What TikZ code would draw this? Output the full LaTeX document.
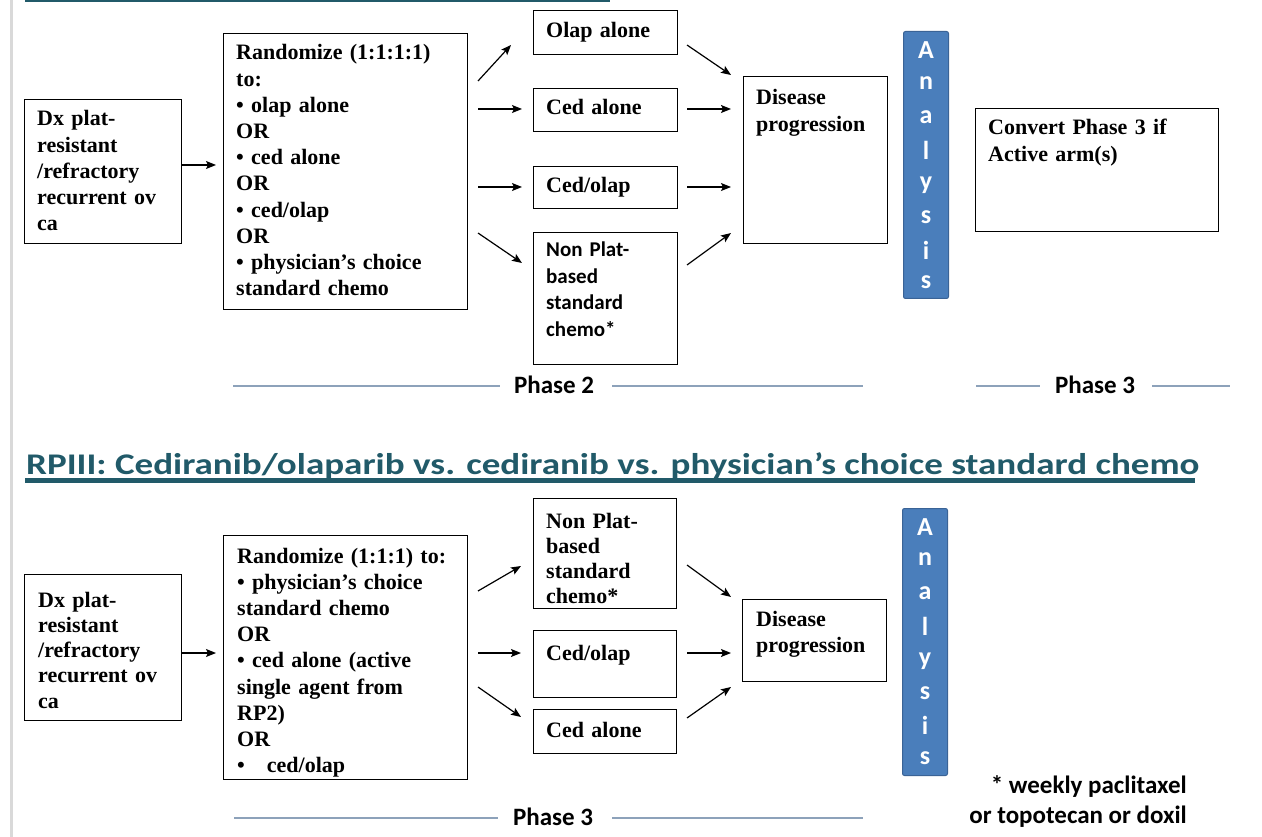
\documentclass[tikz,border=0pt]{standalone}
\usepackage{graphicx}
\usepackage{fontspec}
\setmainfont{Liberation Serif}
\newfontfamily\calfont{Carlito}
\usetikzlibrary{arrows.meta}
\definecolor{tealtitle}{HTML}{215A69}
\definecolor{phaseline}{HTML}{8DA2BA}
\definecolor{anfill}{HTML}{4A7EBB}
\definecolor{anborder}{HTML}{3A6396}
\definecolor{edgegray}{HTML}{D9D9D9}
\tikzset{
  box/.style={draw=black, line width=1.3pt, rectangle, anchor=north west, inner sep=0pt},
  txt/.style={anchor=base west, inner sep=0pt, text width=240pt, align=left,
    font=\bfseries\fontsize{22}{26.2}\selectfont},
  stxt/.style={anchor=base west, inner sep=0pt, text width=140pt, align=left,
    font=\calfont\bfseries\fontsize{21}{26.5}\selectfont},
  arr/.style={line width=1.2pt, -{Stealth[length=10pt,width=8pt,inset=2pt]}},
  anbar/.style={draw=anborder, fill=anfill, line width=1pt, rounded corners=2pt,
    anchor=north west, inner sep=0pt, minimum width=45pt, minimum height=267pt},
  anletter/.style={text=white, inner sep=0pt, font=\calfont\bfseries\fontsize{26}{26}\selectfont},
  phtxt/.style={anchor=base, inner sep=0pt, font=\calfont\bfseries\fontsize{25}{25}\selectfont},
  phline/.style={draw=phaseline, line width=1.6pt},
}
\begin{document}
\begin{tikzpicture}[x=1pt,y=-1pt]
\useasboundingbox (0,0) rectangle (1262,837);
\fill[white] (0,0) rectangle (1262,837);
% slide edge and cut-off title rule
\draw[edgegray, line width=3pt] (11.5,0) -- (11.5,837);
\draw[tealtitle, line width=3pt] (25,1) -- (610,1);

% ================= TOP SECTION =================
\node[box, minimum width=157pt, minimum height=144pt] (dxA) at (24,99) {};
\node[txt] (dxAt) at (37,126) {Dx plat-\\resistant\\/refractory\\recurrent ov\\ca};

\node[box, minimum width=244pt, minimum height=276pt] (rndA) at (223,33) {};
\node[txt] (rndAt) at (236,60) {Randomize (1:1:1:1)\\to:\\• olap alone\\OR\\• ced alone\\OR\\• ced/olap\\OR\\• physician’s choice\\standard chemo};

\node[box, minimum width=144pt, minimum height=44pt] (olapA) at (533,10) {};
\node[txt] (olapAt) at (546,38) {Olap alone};
\node[box, minimum width=144pt, minimum height=43pt] (cedA) at (533,88) {};
\node[txt] (cedAt) at (546,115) {Ced alone};
\node[box, minimum width=144pt, minimum height=42pt] (combA) at (533,166) {};
\node[txt] (combAt) at (546,193) {Ced/olap};
\node[box, minimum width=144pt, minimum height=132pt] (npA) at (533,232) {};
\node[stxt] (npAt) at (546,257) {Non Plat-\\based\\standard\\chemo*};

\node[box, minimum width=144pt, minimum height=167pt] (disA) at (743,76) {};
\node[txt] (disAt) at (756,105) {Disease\\progression};

\node[anbar] (anA) at (903,31) {};
\foreach \l/\yy [count=\i] in {A/50,n/83,a/117,l/150,y/185,s/217,i/250,s/282}
  \node[anletter] (anA\i) at (926,\yy) {\l};

\node[box, minimum width=243pt, minimum height=123pt] (convA) at (975,108) {};
\node[txt] (convAt) at (988,135) {Convert Phase 3 if\\Active arm(s)};

% arrow end points (top)
\coordinate (a1s) at (182,165);  \coordinate (a1e) at (216,165);
\coordinate (a2s) at (478,81);   \coordinate (a2e) at (511,45);
\coordinate (a3s) at (478,109);  \coordinate (a3e) at (522,109);
\coordinate (a4s) at (478,187);  \coordinate (a4e) at (522,187);
\coordinate (a5s) at (478,233);  \coordinate (a5e) at (522,263);
\coordinate (a6s) at (687,45);   \coordinate (a6e) at (731,75);
\coordinate (a7s) at (687,109);  \coordinate (a7e) at (731,109);
\coordinate (a8s) at (687,187);  \coordinate (a8e) at (731,187);
\coordinate (a9s) at (687,265);  \coordinate (a9e) at (731,233);
\foreach \i in {1,...,9} \draw[arr] (a\i s) -- (a\i e);

% phase labels (top)
\node[phtxt] (ph2) at (554,393) {Phase 2};
\draw[phline] (233,386) -- (500,386);
\draw[phline] (612,386) -- (863,386);
\node[phtxt] (ph3A) at (1095,393) {Phase 3};
\draw[phline] (976,386) -- (1040,386);
\draw[phline] (1152,386) -- (1230,386);

% ================= TITLE =================
\node[anchor=base west, inner sep=0pt, text=tealtitle,
      font=\calfont\bfseries\fontsize{30}{30}\selectfont] (title) at (26,474)
      {\scalebox{1.235}[1]{RPIII: Cediranib/olaparib vs. cediranib vs. physician’s choice standard chemo}};
\draw[tealtitle, line width=5pt] (25,480.5) -- (1195,480.5);

% ================= BOTTOM SECTION =================
\node[box, minimum width=157pt, minimum height=146pt] (dxB) at (24,574) {};
\node[txt, font=\bfseries\fontsize{22}{25.3}\selectfont] (dxBt) at (38,607) {Dx plat-\\resistant\\/refractory\\recurrent ov\\ca};

\node[box, minimum width=244pt, minimum height=244pt] (rndB) at (223,535) {};
\node[txt] (rndBt) at (237,563) {Randomize (1:1:1) to:\\• physician’s choice\\standard chemo\\OR\\• ced alone (active\\single agent from\\RP2)\\OR\\•\ \ \ ced/olap};

\node[box, minimum width=143pt, minimum height=110pt] (npB) at (533,498) {};
\node[txt, font=\bfseries\fontsize{22}{25.3}\selectfont] (npBt) at (546,528) {Non Plat-\\based\\standard\\chemo*};
\node[box, minimum width=143pt, minimum height=67pt] (combB) at (533,630) {};
\node[txt] (combBt) at (546,660) {Ced/olap};
\node[box, minimum width=143pt, minimum height=44pt] (cedB) at (533,709) {};
\node[txt] (cedBt) at (546,737) {Ced alone};

\node[box, minimum width=144pt, minimum height=82pt] (disB) at (742,599) {};
\node[txt] (disBt) at (756,626) {Disease\\progression};

\node[anbar] (anB) at (902,508) {};
\foreach \l/\yy [count=\i] in {A/527,n/559,a/593,l/626,y/661,s/693,i/725,s/758}
  \node[anletter] (anB\i) at (925,\yy) {\l};

% arrow end points (bottom)
\coordinate (b1s) at (182,653);  \coordinate (b1e) at (216,653);
\coordinate (b2s) at (478,591);  \coordinate (b2e) at (521,566);
\coordinate (b3s) at (478,653);  \coordinate (b3e) at (521,653);
\coordinate (b4s) at (478,687);  \coordinate (b4e) at (521,717);
\coordinate (b5s) at (687,565);  \coordinate (b5e) at (731,597);
\coordinate (b6s) at (687,653);  \coordinate (b6e) at (731,653);
\coordinate (b7s) at (687,718);  \coordinate (b7e) at (731,687);
\foreach \i in {1,...,7} \draw[arr] (b\i s) -- (b\i e);

\node[phtxt] (ph3B) at (553,825) {Phase 3};
\draw[phline] (234,818) -- (498,818);
\draw[phline] (612,818) -- (863,818);

\node[anchor=base east, inner sep=0pt,
      font=\calfont\bfseries\fontsize{25}{30}\selectfont] (foot1) at (1187,793) {* weekly paclitaxel};
\node[anchor=base east, inner sep=0pt,
      font=\calfont\bfseries\fontsize{25}{30}\selectfont] (foot2) at (1187,823) {or topotecan or doxil};
\end{tikzpicture}
\end{document}
